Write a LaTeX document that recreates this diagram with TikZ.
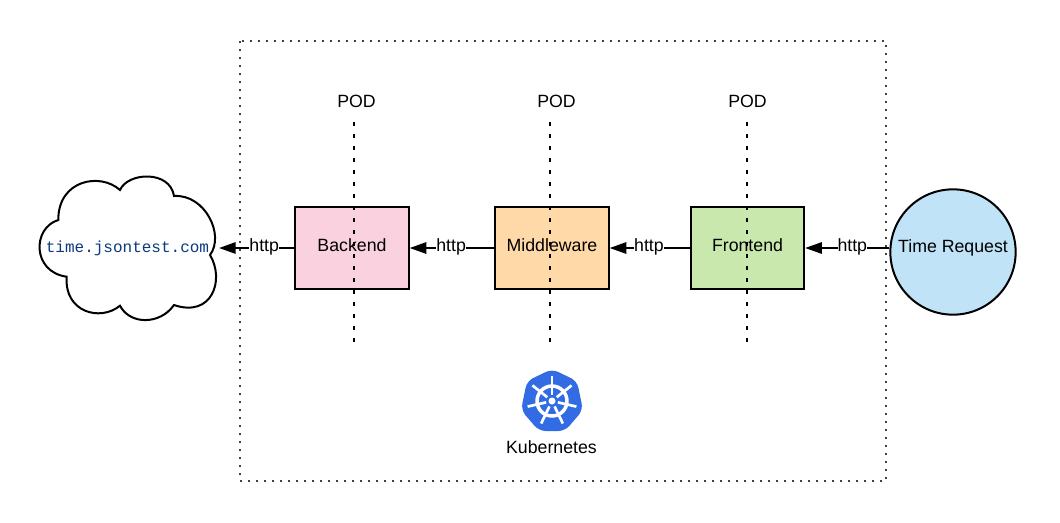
\documentclass[tikz,border=0pt]{standalone}
\usepackage{fontspec}
\setmainfont{Liberation Sans}
\setmonofont{Liberation Mono}
\usetikzlibrary{arrows.meta}
\definecolor{podpink}{HTML}{FAD1DF}
\definecolor{podorange}{HTML}{FFD9A8}
\definecolor{podgreen}{HTML}{C8E8AD}
\definecolor{reqblue}{HTML}{C1E3F7}
\definecolor{urlblue}{HTML}{0B3A7E}
\definecolor{kubeblue}{HTML}{326CE5}
\tikzset{
    podbox/.style={draw,line width=1.5pt,minimum width=85,minimum height=62,inner sep=0pt},
    podline/.style={line width=1.5pt,dash pattern=on 3pt off 6pt},
    httplink/.style={line width=1.5pt,-{Triangle[length=12.5pt,width=8.5pt]}},
    httplabel/.style={fill=white,inner sep=0pt,yshift=1pt,font=\fontsize{13.3pt}{15pt}\selectfont},
    plaintext/.style={inner sep=0pt,font=\fontsize{13.3pt}{15pt}\selectfont},
}
\begin{document}
\begin{tikzpicture}[x=.75pt,y=-.75pt]
        \useasboundingbox (0,0) rectangle (1060,522);
        \fill[white] (0,0) rectangle (1060,522);
        % outer cluster
        \draw[line width=1.1pt,black!75,dash pattern=on 1.5pt off 4.5pt] (240,41) rectangle (886,481);
        % cloud
        \draw[line width=1.5pt,fill=white] (58.3,220)
            .. controls (58,180) and (100,172) .. (120,190)
            .. controls (128,172) and (170,170) .. (174,196)
            .. controls (205,194) and (225,235) .. (210,255)
            .. controls (225,280) and (212,318) .. (174,305)
            .. controls (160,325) and (130,325) .. (120,305.7)
            .. controls (100,322) and (64,312) .. (66.7,276.7)
            .. controls (32,272) and (32,228) .. (58.3,220) -- cycle;
        \node[inner sep=0pt,text=urlblue,font=\ttfamily\fontsize{12pt}{14pt}\selectfont] (cloud) at (127.5,248) {time.jsontest.com};
        \coordinate (cloudedge) at (219,248);
        % pods
        \node[podbox,fill=podpink] (backend) at (352,248) {};
        \node[podbox,fill=podorange] (middleware) at (552,248) {};
        \node[podbox,fill=podgreen] (frontend) at (747.5,248) {};
        \node[circle,draw,line width=1.5pt,fill=reqblue,minimum size=94,inner sep=0pt] (request) at (953,252) {};
        \node[plaintext] (poda) at (356.5,101.5) {POD};
        \node[plaintext] (podb) at (556.5,101.5) {POD};
        \node[plaintext] (podc) at (747.5,101.5) {POD};
        \coordinate (podaend) at (354,342);
        \coordinate (podbend) at (550,342);
        \coordinate (podcend) at (747,342);
        \draw[podline] (354,122)--(podaend);
        \draw[podline] (550,122)--(podbend);
        \draw[podline] (747,122)--(podcend);
        \node[plaintext,yshift=2pt] at (backend) {Backend};
        \node[plaintext,yshift=2pt] at (middleware) {Middleware};
        \node[plaintext,yshift=2pt] at (frontend) {Frontend};
        \node[plaintext,yshift=3pt] at (request) {Time Request};
        % links
        \draw[httplink] (backend.west)--(cloudedge)node[httplabel,pos=.4]{http};
        \draw[httplink] (middleware.west)--(backend.east)node[httplabel,pos=.51]{http};
        \draw[httplink] (frontend.west)--(middleware.east)node[httplabel,pos=.51]{http};
        \draw[httplink] (request.west|-frontend)--(frontend.east)node[httplabel,pos=.44]{http};
        % kubernetes logo
        \coordinate (kube) at (552,401);
        \fill[kubeblue,rounded corners=5pt] (552,369)--(577,381)--(583,410)--(565,431)--(539,431)--(521,410)--(527,381)--cycle;
        \draw[white,line width=2.6pt] (kube) circle (15);
        \foreach \a in {-90,-38.57,...,260} {
            \draw[white,line width=2pt] (kube)++(\a:6)--++(\a:19);
        }
        \fill[white] (kube) circle (3.5);
        \node[plaintext] (kubelabel) at (551.5,447) {Kubernetes};
    \end{tikzpicture}
\end{document}
